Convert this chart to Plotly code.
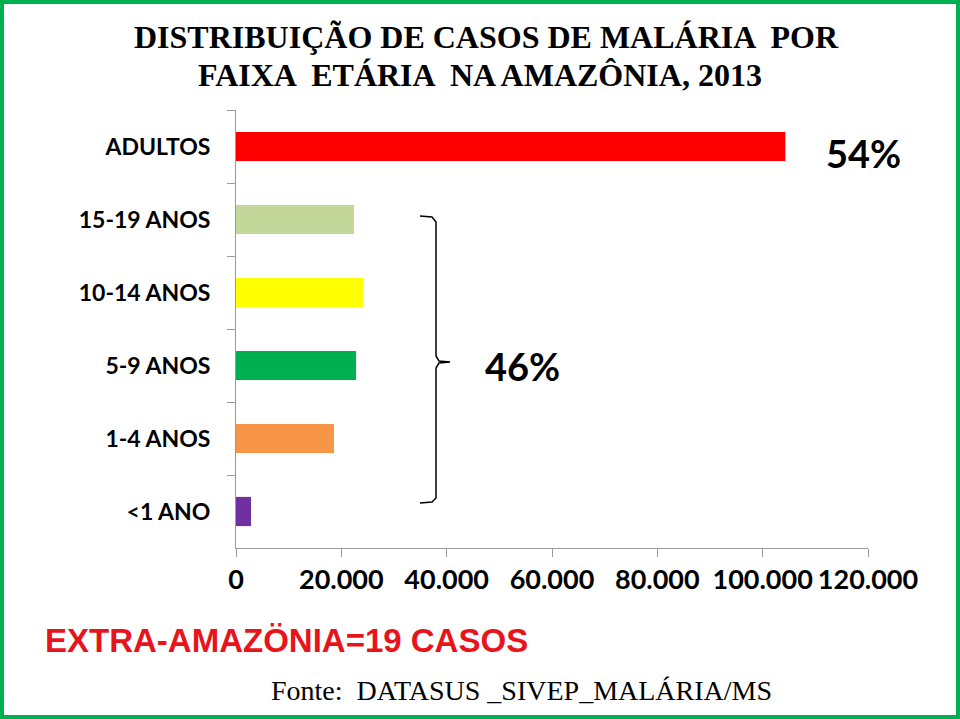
import plotly.graph_objects as go

categories = ["ADULTOS", "15-19 ANOS", "10-14 ANOS", "5-9 ANOS", "1-4 ANOS", "<1 ANO"]
cases = [104300, 22400, 24100, 22800, 18600, 2850]
colors = ["#FF0000", "#C4D79B", "#FFFF00", "#00B050", "#F79646", "#7030A0"]
x_ticks = [0, 20000, 40000, 60000, 80000, 100000, 120000]

W, H = 960, 719
L, R, T, B = 236, 92, 110, 171
PW, PH = W - L - R, H - T - B

def px(x):
    return (x - L) / PW

def py(y):
    return (H - B - y) / PH

fig = go.Figure(go.Bar(
    y=categories, x=cases, orientation="h",
    marker=dict(color=colors, line=dict(width=0)),
    width=0.4,
))

axis_col = "#9A9A9A"
fig.update_layout(
    width=W, height=H,
    margin=dict(l=L, r=R, t=T, b=B, pad=0),
    paper_bgcolor="white", plot_bgcolor="white",
    separators=",.",
    showlegend=False,
    xaxis=dict(range=[0, 120000], tickvals=x_ticks, tickformat=",d", tickangle=0,
               showgrid=False, zeroline=False, showline=True, linecolor=axis_col,
               linewidth=1, ticks="outside", ticklen=8, tickcolor=axis_col,
               tickfont=dict(family="Lato", size=27, color="black", weight="bold"),
               ticklabelstandoff=0),
    yaxis=dict(autorange="reversed", showgrid=False, zeroline=False, showline=True,
               linecolor=axis_col, linewidth=1, ticks="outside", ticklen=8,
               tickcolor=axis_col, tickson="boundaries",
               tickfont=dict(family="Lato", size=23, color="black", weight="bold"),
               ticklabelstandoff=20),
)

annotations = [
    dict(text="DISTRIBUIÇÃO DE CASOS DE MALÁRIA  POR", x=px(486), y=py(37),
         font=dict(family="Liberation Serif", size=32, color="black", weight="bold")),
    dict(text="FAIXA  ETÁRIA  NA AMAZÔNIA, 2013", x=px(480), y=py(75),
         font=dict(family="Liberation Serif", size=32, color="black", weight="bold")),
    dict(text="54%", x=px(863), y=py(153),
         font=dict(family="Lato", size=38, color="black", weight="bold")),
    dict(text="46%", x=px(522), y=py(366),
         font=dict(family="Lato", size=38, color="black", weight="bold")),
    dict(text="EXTRA-AMAZÖNIA=19 CASOS", x=px(286), y=py(640),
         font=dict(family="Liberation Sans", size=33, color="#E8141B", weight="bold")),
    dict(text="Fonte:  DATASUS _SIVEP_MALÁRIA/MS", x=px(521), y=py(690),
         font=dict(family="Liberation Serif", size=28, color="black")),
]
for a in annotations:
    a.update(xref="paper", yref="paper", showarrow=False, xanchor="center", yanchor="middle")
    fig.add_annotation(**a)

# brace
pts = [(420, 216), (432, 217), (436, 222), (436, 356), (439, 361), (450, 362),
       (439, 363), (436, 368), (436, 498), (432, 502), (420, 503)]
path = "M " + " L ".join(f"{px(x):.5f},{py(y):.5f}" for x, y in pts)
fig.add_shape(type="path", path=path, xref="paper", yref="paper",
              line=dict(color="black", width=1.5))

# green frame
fig.add_shape(type="rect", xref="paper", yref="paper",
              x0=px(2), x1=px(W - 2), y0=py(H - 2), y1=py(2),
              line=dict(color="#00B050", width=4), fillcolor="rgba(0,0,0,0)", layer="above")

fig.write_html("out.html", config={"displayModeBar": False},
               post_script="document.body.style.margin='0';")
